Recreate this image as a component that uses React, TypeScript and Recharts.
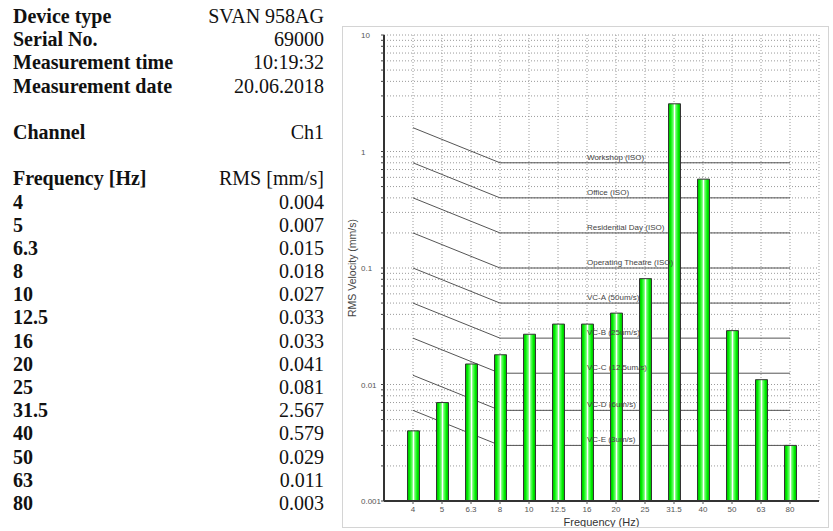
import React from "react";
import {
  ComposedChart,
  Bar,
  Line,
  XAxis,
  YAxis,
  CartesianGrid,
  LabelList,
  Label,
} from "recharts";

const frequencies = ["4", "5", "6.3", "8", "10", "12.5", "16", "20", "25", "31.5", "40", "50", "63", "80"];
const rmsValues = [0.004, 0.007, 0.015, 0.018, 0.027, 0.033, 0.033, 0.041, 0.081, 2.567, 0.579, 0.029, 0.011, 0.003];

const infoLabels = ["Device type", "Serial No.", "Measurement time", "Measurement date"];
const infoValues = ["SVAN 958AG", "69000", "10:19:32", "20.06.2018"];

const criteriaNames = [
  "Workshop (ISO)",
  "Office (ISO)",
  "Residential Day (ISO)",
  "Operating Theatre (ISO)",
  "VC-A (50um/s)",
  "VC-B (25um/s)",
  "VC-C (12.5um/s)",
  "VC-D (6um/s)",
  "VC-E (3um/s)",
];
// flat level from 8 Hz up, and the value where each curve starts at 4 Hz
const criteriaLevels = [0.8, 0.4, 0.2, 0.1, 0.05, 0.025, 0.0125, 0.006, 0.003];
const criteriaAt4Hz = [1.6, 0.8, 0.4, 0.2, 0.1, 0.05, 0.025, 0.012, 0.006];

const decades = [0.001, 0.01, 0.1, 1];
const yTickLabels = ["0.001", "0.01", "0.1", "1", "10"];
const majorTicks = [0.001, 0.01, 0.1, 1, 10];
const yTicks = [
  ...decades.flatMap((d) => [1, 2, 3, 4, 5, 6, 7, 8, 9].map((m) => +(d * m).toPrecision(3))),
  10,
];

const LABEL_INDEX = 6; // criteria labels start at the 16 Hz column

const data = frequencies.map((f, i) => {
  const row: Record<string, any> = { freq: f, rms: rmsValues[i] };
  criteriaNames.forEach((_, k) => {
    row["c" + k] = i === 0 ? criteriaAt4Hz[k] : i < 3 ? null : criteriaLevels[k];
  });
  return row;
});

const YTick = (props: any) => {
  const idx = majorTicks.findIndex((t) => Math.abs(t - props.payload.value) < t * 1e-6);
  if (idx < 0) return <g />;
  return (
    <text x={18} y={props.y} dy={3} fontSize={8} fill="#555" fontFamily="Liberation Sans">
      {yTickLabels[idx]}
    </text>
  );
};

function InfoTable() {
  const rows: ([string, string] | null)[] = [
    ...infoLabels.map((l, i) => [l, infoValues[i]] as [string, string]),
    null,
    ["Channel", "Ch1"],
    null,
    ["Frequency [Hz]", "RMS [mm/s]"],
    ...frequencies.map((f, i) => [f, rmsValues[i].toFixed(3)] as [string, string]),
  ];
  return (
    <div
      style={{
        position: "absolute",
        left: 13,
        top: 5,
        width: 311,
        fontFamily: "Liberation Serif",
        fontSize: 20,
        lineHeight: "23.2px",
        color: "#111",
      }}
    >
      {rows.map((r, i) => (
        <div key={i} style={{ display: "flex", justifyContent: "space-between", height: 23.2 }}>
          {r && (
            <>
              <span style={{ fontWeight: "bold" }}>{r[0]}</span>
              <span>{r[1]}</span>
            </>
          )}
        </div>
      ))}
    </div>
  );
}

export default function App() {
  return (
    <div style={{ position: "absolute", left: 0, top: 0, width: 833, height: 531, background: "#fff" }}>
      <InfoTable />
      <div
        style={{
          position: "absolute",
          left: 342,
          top: 26,
          width: 485,
          height: 500,
          border: "1px solid #d4d4d4",
        }}
      >
        <ComposedChart
          width={485}
          height={500}
          data={data}
          margin={{ top: 8, right: 9, bottom: 4, left: 7 }}
        >
          <defs>
            <linearGradient id="barGrad" x1="0" y1="0" x2="1" y2="0">
              <stop offset="0%" stopColor="#00b400" />
              <stop offset="18%" stopColor="#00f000" />
              <stop offset="40%" stopColor="#70ff70" />
              <stop offset="50%" stopColor="#ffffff" />
              <stop offset="60%" stopColor="#70ff70" />
              <stop offset="82%" stopColor="#00f000" />
              <stop offset="100%" stopColor="#00b400" />
            </linearGradient>
          </defs>
          <CartesianGrid stroke="#9a9a9a" strokeDasharray="1 2" />
          <XAxis
            dataKey="freq"
            padding={{ left: 14.5, right: 14.5 }}
            height={22}
            tickSize={3}
            tickLine={{ stroke: "#555" }}
            axisLine={{ stroke: "#333", strokeWidth: 2 }}
            tick={{ fontSize: 8, fill: "#555", fontFamily: "Liberation Sans" }}
            interval={0}
          >
            <Label
              value="Frequency (Hz)"
              position="insideBottom"
              offset={-3}
              style={{ fontSize: 11, fill: "#333", fontFamily: "Liberation Sans" }}
            />
          </XAxis>
          <XAxis
            xAxisId="top"
            dataKey="freq"
            orientation="top"
            height={0}
            tick={false}
            tickLine={false}
            axisLine={{ stroke: "#777", strokeWidth: 1.5 }}
          />
          <YAxis
            scale="log"
            type="number"
            domain={[0.001, 10]}
            allowDataOverflow
            ticks={yTicks}
            interval={0}
            width={34}
            tickSize={3}
            tickLine={{ stroke: "#444" }}
            axisLine={{ stroke: "#333", strokeWidth: 2 }}
            tick={<YTick />}
          >
            <Label
              content={(p: any) => {
                const vb = p.viewBox || {};
                const cx = 9;
                const cy = (vb.y ?? 8) + (vb.height ?? 466) / 2;
                return (
                  <text
                    x={cx}
                    y={cy}
                    transform={`rotate(-90, ${cx}, ${cy})`}
                    textAnchor="middle"
                    dominantBaseline="central"
                    fontSize={10.5}
                    fill="#444"
                    fontFamily="Liberation Sans"
                  >
                    RMS Velocity (mm/s)
                  </text>
                );
              }}
            />
          </YAxis>
          <YAxis
            yAxisId="right"
            orientation="right"
            type="number"
            domain={[0, 1]}
            width={0}
            tick={false}
            tickLine={false}
            axisLine={{ stroke: "#777", strokeWidth: 1.5 }}
          />
          {criteriaNames.map((name, k) => (
            <Line
              key={name}
              dataKey={"c" + k}
              stroke="#555"
              strokeWidth={1}
              dot={false}
              activeDot={false}
              connectNulls
              isAnimationActive={false}
              zIndex={250}
            />
          ))}
          <Bar
            dataKey="rms"
            barSize={12}
            fill="url(#barGrad)"
            stroke="#333"
            strokeWidth={1}
            isAnimationActive={false}
            zIndex={300}
          />
          {criteriaNames.map((name, k) => (
            <Line
              key={"lbl" + name}
              dataKey={"c" + k}
              stroke="none"
              dot={false}
              activeDot={false}
              connectNulls
              isAnimationActive={false}
              zIndex={600}
            >
              <LabelList
                dataKey={"c" + k}
                content={(p: any) =>
                  p.index === LABEL_INDEX ? (
                    <text
                      x={p.x}
                      y={p.y - 3}
                      fontSize={8}
                      fill="#444"
                      fontFamily="Liberation Sans"
                    >
                      {name}
                    </text>
                  ) : null
                }
              />
            </Line>
          ))}
        </ComposedChart>
      </div>
    </div>
  );
}
